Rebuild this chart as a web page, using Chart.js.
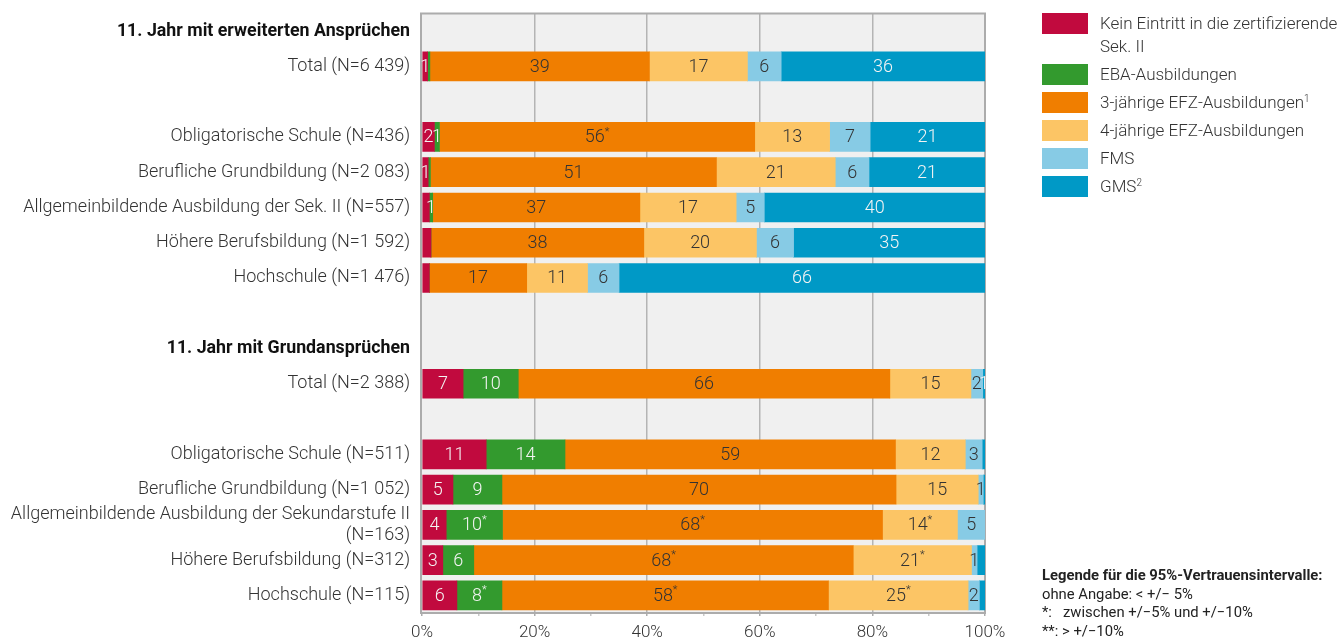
<!DOCTYPE html>
<html>
<head>
<meta charset="utf-8">
<script src="https://cdn.jsdelivr.net/npm/chart.js@4.4.1/dist/chart.umd.min.js"></script>
<style>
  body { margin: 0; background: #fff; font-family: Roboto, "Noto Sans", sans-serif; }
  #wrap { position: relative; width: 1342px; height: 639px; }
  #legend { position: absolute; left: 1042px; top: 12px; color: #333; font-size: 17px; font-weight: 300; }
  .item { display: flex; align-items: flex-start; margin-bottom: 5px; }
  .box { width: 46px; height: 21px; margin-right: 12px; margin-top: 1px; flex: none; }
  .item span.t { line-height: 23px; white-space: nowrap; }
  sup { font-size: 10px; vertical-align: 6px; line-height: 0; }
  #note { position: absolute; left: 1042px; top: 566px; font-size: 14.8px; color: #222; line-height: 18.5px; white-space: nowrap; }
  #note b { font-weight: 700; }
</style>
</head>
<body>
<div id="wrap">
  <canvas id="chart" width="1342" height="639"></canvas>
  <div id="legend"></div>
  <div id="note">
    <b>Legende für die 95%-Vertrauensintervalle:</b><br>
    ohne Angabe: &lt; +/− 5%<br>
    *:&nbsp;&nbsp; zwischen +/−5% und +/−10%<br>
    **: &gt; +/−10%
  </div>
</div>
<script>
const categories = [
  "11. Jahr mit erweiterten Ansprüchen",
  "Total (N=6 439)",
  "",
  "Obligatorische Schule (N=436)",
  "Berufliche Grundbildung (N=2 083)",
  "Allgemeinbildende Ausbildung der Sek. II (N=557)",
  "Höhere Berufsbildung (N=1 592)",
  "Hochschule (N=1 476)",
  "",
  "11. Jahr mit Grundansprüchen",
  "Total (N=2 388)",
  "",
  "Obligatorische Schule (N=511)",
  "Berufliche Grundbildung (N=1 052)",
  ["Allgemeinbildende Ausbildung der Sekundarstufe II", "(N=163)"],
  "Höhere Berufsbildung (N=312)",
  "Hochschule (N=115)"
];
const headerRows = [0, 9];

const seriesNames = [
  "Kein Eintritt in die zertifizierende Sek. II",
  "EBA-Ausbildungen",
  "3-jährige EFZ-Ausbildungen",
  "4-jährige EFZ-Ausbildungen",
  "FMS",
  "GMS"
];
const legendNames = [
  "Kein Eintritt in die zertifizierende<br>Sek. II",
  "EBA-Ausbildungen",
  "3-jährige EFZ-Ausbildungen<sup>1</sup>",
  "4-jährige EFZ-Ausbildungen",
  "FMS",
  "GMS<sup>2</sup>"
];
const colors = ["#c10a3e", "#339a2e", "#f07e00", "#fcc565", "#87cbe5", "#0099c6"];
const labelColors = ["#f4f4f4", "#f4f4f4", "#333", "#333", "#333", "#f4f4f4"];

// shares in %
const kein = [null, 1, null, 2.2, 1.1, 1.3, 1.6, 1.3, null, null, 7.3, null, 11.4, 5.5, 4.3, 3.7, 6.2];
const eba  = [null, 0.4, null, 0.9, 0.4, 0.6, 0, 0, null, null, 9.8, null, 14, 8.7, 10, 5.5, 8];
const efz3 = [null, 39, null, 56, 50.8, 36.8, 37.8, 17.3, null, null, 66, null, 58.7, 70, 67.5, 67.4, 58];
const efz4 = [null, 17.4, null, 13.3, 21.1, 17.1, 20, 10.8, null, null, 14.4, null, 12.4, 14.6, 13.3, 21, 24.8];
const fms  = [null, 6, null, 7.2, 6, 5, 6.6, 5.6, null, null, 2.1, null, 3, 0.9, 4.9, 1, 2];
const gms  = [null, 36.2, null, 20.4, 20.6, 39.2, 34, 65, null, null, 0.4, null, 0.5, 0.3, 0, 1.4, 1];

// printed labels ("*" = confidence interval marker)
const keinLabels = ["", "1", "", "2", "1", "", "", "", "", "", "7", "", "11", "5", "4", "3", "6"];
const ebaLabels  = ["", "", "", "1", "", "1", "", "", "", "", "10", "", "14", "9", "10*", "6", "8*"];
const efz3Labels = ["", "39", "", "56*", "51", "37", "38", "17", "", "", "66", "", "59", "70", "68*", "68*", "58*"];
const efz4Labels = ["", "17", "", "13", "21", "17", "20", "11", "", "", "15", "", "12", "15", "14*", "21*", "25*"];
const fmsLabels  = ["", "6", "", "7", "6", "5", "6", "6", "", "", "2", "", "3", "1", "5", "1", "2"];
const gmsLabels  = ["", "36", "", "21", "21", "40", "35", "66", "", "", "1", "", "", "", "", "", ""];

const xTicks = [0, 20, 40, 60, 80, 100];

const allValues = [kein, eba, efz3, efz4, fms, gms];
const allLabels = [keinLabels, ebaLabels, efz3Labels, efz4Labels, fmsLabels, gmsLabels];

const FONT = "Roboto, 'Noto Sans', sans-serif";

// legend (html)
const legendEl = document.getElementById("legend");
legendNames.forEach((n, i) => {
  const d = document.createElement("div");
  d.className = "item";
  d.innerHTML = '<div class="box" style="background:' + colors[i] + '"></div><span class="t">' + n + '</span>';
  legendEl.appendChild(d);
});

const plotFrame = {
  id: "plotFrame",
  beforeDraw(chart) {
    const { ctx, chartArea: a } = chart;
    ctx.save();
    ctx.fillStyle = "#f0f0f0";
    ctx.fillRect(a.left, a.top, a.right - a.left, a.bottom - a.top);
    ctx.restore();
  },
  beforeDatasetsDraw(chart) {
    const { ctx, chartArea: a } = chart;
    ctx.save();
    ctx.strokeStyle = "#acacac";
    ctx.lineWidth = 2;
    ctx.strokeRect(a.left - 1, a.top, a.right - a.left + 1, a.bottom - a.top);
    ctx.restore();
  }
};

const barLabels = {
  id: "barLabels",
  afterDatasetsDraw(chart) {
    const ctx = chart.ctx;
    ctx.save();
    ctx.textBaseline = "middle";
    chart.data.datasets.forEach((ds, di) => {
      const meta = chart.getDatasetMeta(di);
      meta.data.forEach((bar, i) => {
        const txt = allLabels[di][i];
        if (!txt) return;
        const base = txt.replace(/\*/g, "");
        const star = txt.slice(base.length);
        ctx.font = "300 18px " + FONT;
        const wb = ctx.measureText(base).width;
        ctx.font = "300 11px " + FONT;
        const ws = star ? ctx.measureText(star).width : 0;
        const cx = (bar.x + bar.base) / 2;
        const x0 = cx - (wb + ws) / 2;
        ctx.fillStyle = labelColors[di];
        ctx.textAlign = "left";
        ctx.font = "300 18px " + FONT;
        ctx.fillText(base, x0, bar.y + 1);
        if (star) {
          ctx.font = "300 11px " + FONT;
          ctx.fillText(star, x0 + wb, bar.y - 5);
        }
      });
    });
    ctx.restore();
  }
};

new Chart(document.getElementById("chart"), {
  type: "bar",
  data: {
    labels: categories,
    datasets: allValues.map((vals, i) => ({
      label: seriesNames[i],
      data: vals,
      backgroundColor: colors[i],
      borderWidth: 0,
      barThickness: 29
    }))
  },
  options: {
    indexAxis: "y",
    responsive: false,
    animation: false,
    layout: { padding: { top: 13.5, right: 357, left: 0, bottom: 0 } },
    plugins: { legend: { display: false }, tooltip: { enabled: false } },
    scales: {
      x: {
        stacked: true,
        min: 0,
        max: 100,
        afterFit(scale) { scale.height = 26; },
        border: { display: false },
        grid: {
          color: (c) => (c.tick && c.tick.value % 20 === 0 && c.tick.value > 0 && c.tick.value < 100) ? "#b4b4b4" : "transparent",
          lineWidth: 1.5,
          tickColor: (c) => (c.tick && c.tick.value % 20 === 0) ? "#acacac" : "#c8c8c8",
          tickLength: 3
        },
        ticks: {
          stepSize: 10,
          autoSkip: false,
          maxRotation: 0,
          padding: 7,
          color: "#333",
          font: { family: FONT, size: 17, weight: 300 },
          callback: (v) => (xTicks.includes(v) ? v + "%" : "")
        }
      },
      y: {
        stacked: true,
        afterFit(scale) {
          scale.width = 422;
          scale.paddingTop = 0;
          scale.paddingBottom = 0;
        },
        border: { display: false },
        grid: { display: false, drawTicks: false },
        ticks: {
          padding: 12,
          autoSkip: false,
          color: (c) => (headerRows.includes(c.index) ? "#111" : "#333"),
          font: (c) => headerRows.includes(c.index)
            ? { family: FONT, size: 17.8, weight: "bold", lineHeight: 1.15 }
            : { family: FONT, size: 18, weight: 300, lineHeight: 1.15 }
        }
      }
    }
  },
  plugins: [plotFrame, barLabels]
});
</script>
</body>
</html>
